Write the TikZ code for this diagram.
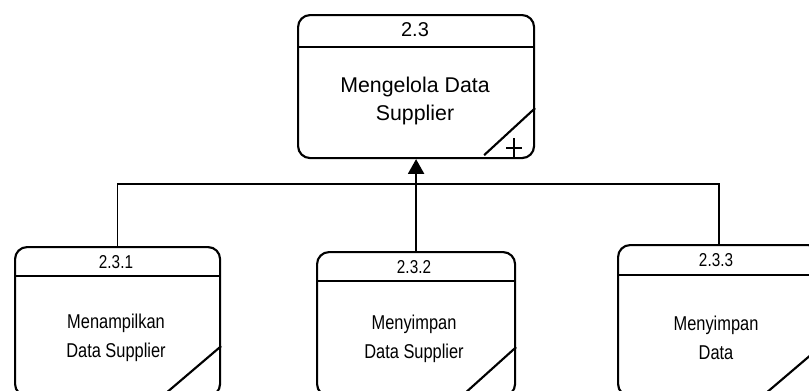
\documentclass[tikz,border=0pt]{standalone}
\usepackage{fontspec}
\setmainfont{Liberation Sans}
\newfontfamily\narrowfont[FakeStretch=0.82]{Liberation Sans}
\usetikzlibrary{calc,arrows.meta}
\begin{document}
\begin{tikzpicture}[x=0.75pt,y=-0.75pt,
  proc/.style={draw, line width=1.6pt, rounded corners=9pt, anchor=north west, inner sep=0pt},
  divline/.style={line width=2.2pt},
  diag/.style={line width=1.6pt},
  conn/.style={line width=1.3pt},
  toplbl/.style={font=\fontsize{15}{18}\selectfont},
  topmain/.style={font=\fontsize{16}{21}\selectfont, align=center},
  sublbl/.style={font=\narrowfont\fontsize{14}{16}\selectfont},
  submain/.style={font=\narrowfont\fontsize{15}{21.5}\selectfont, align=center}]
\useasboundingbox (0,0) rectangle (809,390);
\clip (0,0) rectangle (809,390);

% top process 2.3
\node[proc, minimum width=177pt, minimum height=107.25pt] (p23) at (297,14) {};
\draw[divline] ($(p23.north west)+(0,33)$) -- ($(p23.north east)+(0,33)$);
\draw[diag] ($(p23.south east)+(-51,-4)$) -- ($(p23.south east)+(0,-51)$);
\draw[line width=1pt] (506,148) -- (522,148) (514,138) -- (514,157);
\node[toplbl] (n23) at (415,30) {2.3};
\node[topmain] (t23) at (415,101) {Mengelola Data\\Supplier};

% 2.3.1
\node[proc, minimum width=153.75pt, minimum height=111.75pt] (p231) at (14,246) {};
\draw[divline] ($(p231.north west)+(0,30)$) -- ($(p231.north east)+(0,30)$);
\draw[diag] ($(p231.south east)+(-54,-5)$) -- ($(p231.south east)+(0,-51)$);
\node[sublbl] (n231) at (116,262) {2.3.1};
\node[submain] (t231) at (116,338) {Menampilkan\\Data Supplier};

% 2.3.2
\node[proc, minimum width=148.5pt, minimum height=108pt] (p232) at (316,251) {};
\draw[divline] ($(p232.north west)+(0,30)$) -- ($(p232.north east)+(0,30)$);
\draw[diag] ($(p232.south east)+(-50,-5)$) -- ($(p232.south east)+(0,-50)$);
\node[sublbl] (n232) at (414,267) {2.3.2};
\node[submain] (t232) at (414,339) {Menyimpan\\Data Supplier};

% 2.3.3
\node[proc, minimum width=151.5pt, minimum height=113.25pt] (p233) at (617,244) {};
\draw[divline] ($(p233.north west)+(0,31)$) -- ($(p233.north east)+(0,31)$);
\draw[diag] ($(p233.south east)+(-54,-5)$) -- ($(p233.south east)+(0,-51)$);
\node[sublbl] (n233) at (716,260) {2.3.3};
\node[submain] (t233) at (716,338) {Menyimpan\\Data};

% connectors
\coordinate (j) at (415,184);
\draw[conn] (p231.north) |- (j);
\draw[conn] (p233.north) |- (j);
\draw[conn, -{Triangle[length=11pt,width=12pt]}] (p232.north) -- (p23.south);
\end{tikzpicture}
\end{document}
